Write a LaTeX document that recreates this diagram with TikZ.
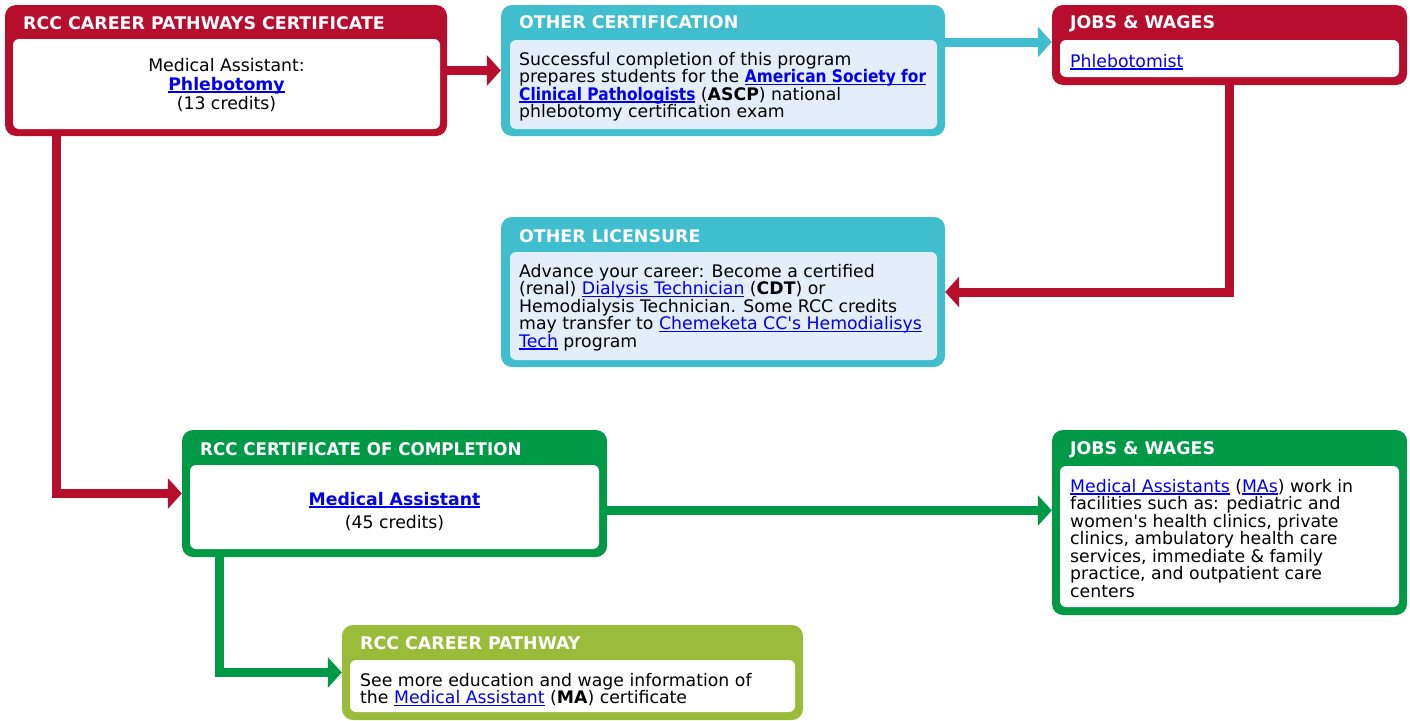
\documentclass[tikz,border=0pt]{standalone}
\usepackage{fontspec}
\setmainfont{DejaVu Sans}
\newfontfamily\narrowfont[FakeStretch=0.89]{DejaVu Sans}
\newfontfamily\headnarrow[FakeStretch=0.96]{DejaVu Sans}
\usetikzlibrary{arrows.meta,positioning}
\definecolor{cred}{RGB}{184,14,46}
\definecolor{cteal}{RGB}{64,190,206}
\definecolor{cgreen}{RGB}{0,154,70}
\definecolor{clime}{RGB}{155,188,59}
\definecolor{clight}{RGB}{228,238,250}
\definecolor{linkblue}{RGB}{0,0,238}
\newcommand\lnk[1]{{\color{linkblue}\sbox0{#1}\rlap{\rule[-2.6pt]{\wd0}{1.3pt}}\usebox0}}

\begin{document}
\begin{tikzpicture}[x=1pt,y=-1pt,
		box/.style={rectangle,rounded corners=11pt,fill=#1,inner sep=0pt},
		inbox/.style={rectangle,rounded corners=6pt,fill=#1,inner sep=0pt},
		head/.style={anchor=base west,inner sep=0pt,text=white,font=\fontsize{17.4}{17.5}\selectfont\bfseries},
		body/.style={anchor=base west,inner sep=0pt,align=left,font=\fontsize{17.3}{17.5}\selectfont},
		pipe/.style={draw=#1,line width=9pt,-{Triangle[width=30pt,length=14pt]}}]
			\useasboundingbox (0,0) rectangle (1410,720);

			% career pathways certificate
			\node[box=cred,minimum width=442,minimum height=131] (pcc) at (226,70.5) {};
			\node[inbox=white,minimum width=427,minimum height=90] (pcc-in) at (226.5,84) {};
			\node[head] (pcc-h) at (23,29) {RCC CAREER PATHWAYS CERTIFICATE};
			\node[body,anchor=base,align=center] (pcc-t) at (226.5,109) {Medical Assistant:\\[1.5pt] \lnk{\textbf{Phlebotomy}}\\[1.5pt] (13 credits)};

			% other certification
			\node[box=cteal,minimum width=444,minimum height=131] (oc) at (723,70.5) {};
			\node[inbox=clight,minimum width=427,minimum height=89] (oc-in) at (723.5,84.5) {};
			\node[head] (oc-h) at (519,28) {OTHER CERTIFICATION};
			\node[body] (oc-t) at (519,117.5) {Successful completion of this program\\ prepares students for the \lnk{\narrowfont\bfseries American Society for}\\ \lnk{\narrowfont\bfseries Clinical Pathologists} (\textbf{ASCP}) national\\ phlebotomy certification exam};

			% jobs and wages (phlebotomist)
			\node[box=cred,minimum width=355,minimum height=80] (jw1) at (1229.5,45) {};
			\node[inbox=white,minimum width=339,minimum height=37] (jw1-in) at (1229.5,58.5) {};
			\node[head] (jw1-h) at (1070,28) {JOBS \& WAGES};
			\node[body] (jw1-t) at (1070,67) {\lnk{Phlebotomist}};

			% other licensure
			\node[box=cteal,minimum width=444,minimum height=150] (ol) at (723,292) {};
			\node[inbox=clight,minimum width=427,minimum height=108] (ol-in) at (723.5,306) {};
			\node[head] (ol-h) at (519,242) {OTHER LICENSURE};
			\node[body] (ol-t) at (519,347) {Advance your career: Become a certified\\ (renal) \lnk{Dialysis Technician} (\textbf{CDT}) or\\ Hemodialysis Technician. Some RCC credits\\ may transfer to \lnk{Chemeketa CC\textquotesingle s Hemodialisys}\\ \lnk{Tech} program};

			% certificate of completion
			\node[box=cgreen,minimum width=425,minimum height=127] (cc) at (394.5,493.5) {};
			\node[inbox=white,minimum width=409,minimum height=84] (cc-in) at (394.5,507) {};
			\node[head] (cc-h) at (200,455) {\headnarrow RCC CERTIFICATE OF COMPLETION};
			\node[body,anchor=base,align=center] (cc-t) at (394.5,528) {\lnk{\textbf{Medical Assistant}}\\[5.5pt] (45 credits)};

			% jobs and wages (medical assistant)
			\node[box=cgreen,minimum width=355,minimum height=185] (jw2) at (1229.5,522.5) {};
			\node[inbox=white,minimum width=339,minimum height=141] (jw2-in) at (1229.5,536.5) {};
			\node[head] (jw2-h) at (1070,454) {JOBS \& WAGES};
			\node[body] (jw2-t) at (1070,597) {\lnk{Medical Assistants} (\lnk{MAs}) work in\\ facilities such as: pediatric and\\ women\textquotesingle s health clinics, private\\ clinics, ambulatory health care\\ services, immediate \& family\\ practice, and outpatient care\\ centers};

			% career pathway
			\node[box=clime,minimum width=461,minimum height=95] (cp) at (572.5,672.5) {};
			\node[inbox=white,minimum width=445,minimum height=52] (cp-in) at (572.5,686) {};
			\node[head] (cp-h) at (360,649) {RCC CAREER PATHWAY};
			\node[body] (cp-t) at (360,703.5) {See more education and wage information of\\ the \lnk{Medical Assistant} (\textbf{MA}) certificate};

			\coordinate (tealy) at ([yshift=3pt]jw1.west);
			\coordinate (grny) at ([yshift=-17pt]cc.east);

			\draw[pipe=cred] (pcc.east) -- (oc.west);
			\draw[pipe=cteal] (oc.east |- tealy) -- (tealy);
			\draw[pipe=cred] (jw1.south) |- (ol.east);
			\draw[pipe=cred] ([xshift=52pt]pcc.south west) |- (cc.west);
			\draw[pipe=cgreen] (grny) -- (grny -| jw2.west);
			\draw[pipe=cgreen] ([xshift=38pt]cc.south west) |- (cp.west);
		\end{tikzpicture}
\end{document}
